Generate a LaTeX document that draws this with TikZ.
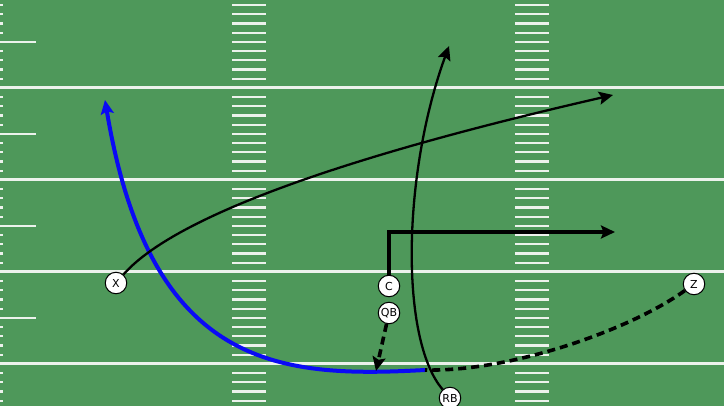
\documentclass[tikz,border=0pt]{standalone}
\usepackage{fontspec}
\setmainfont{DejaVu Sans}
\usetikzlibrary{arrows.meta}
\definecolor{grass}{RGB}{78,152,90}
\definecolor{chalk}{RGB}{236,242,236}
\definecolor{routeblue}{RGB}{10,10,245}
\tikzset{
  player/.style={circle, draw=black, line width=1pt, fill=white, minimum size=21.5pt, inner sep=0pt, font=\fontsize{11}{11}\selectfont},
  yardline/.style={draw=chalk, line width=3pt},
  hashmark/.style={draw=chalk, line width=2.2pt},
  tip/.style={-{Stealth[length=14pt,width=13pt,inset=2.5pt]}},
  thinroute/.style={draw=black, line width=2.3pt, tip},
  thickroute/.style={draw=black, line width=3.4pt, tip},
  dashroute/.style={draw=black, line width=3.6pt, dash pattern=on 8pt off 5pt},
  blueroute/.style={draw=routeblue, line width=4pt, tip}
}
\begin{document}
\begin{tikzpicture}[x=1pt,y=-1pt]
\fill[grass] (0,0) rectangle (724,406);
\useasboundingbox (0,0) rectangle (724,406);
% yard lines
\foreach \y in {88,180,272,364} {\draw[yardline] (0,\y) -- (724,\y);}
% hash marks and side ticks
\foreach \k in {1,...,44} {
  \pgfmathsetmacro\yy{-4+9.2*\k}
  \pgfmathtruncatemacro\mten{mod(\k,10)}
  \pgfmathtruncatemacro\mfive{mod(\k,5)}
  \ifnum\mten>0
    \draw[hashmark] (232,\yy) -- (266,\yy);
    \draw[hashmark] (515,\yy) -- (549,\yy);
    \ifnum\mfive=0
      \draw[hashmark] (0,\yy) -- (36,\yy);
    \else
      \draw[hashmark] (0,\yy) -- (2.5,\yy);
    \fi
  \fi
}
% players
\node[player] (X) at (116,283) {X};
\node[player] (C) at (389,286) {C};
\node[player] (QB) at (389,313) {QB};
\node[player] (RB) at (450,398) {RB};
\node[player] (Z) at (694,284) {Z};
% route ends
\coordinate (xt) at (613,95);
\coordinate (ct) at (615,232);
\coordinate (qt) at (376,371);
\coordinate (rbt) at (449,46);
\coordinate (bt) at (105,100);
\coordinate (jn) at (425,370);
% routes
\draw[blueroute] (jn) .. controls (280,378) and (150,370) .. (bt);
\draw[dashroute] (Z) .. controls (630,330) and (510,372) .. (jn);
\draw[thinroute] (X) .. controls (173,218) and (337,158) .. (xt);
\draw[thinroute] (RB) .. controls (400,340) and (402,175) .. (rbt);
\draw[thickroute] (C) |- (ct);
\draw[dashroute, tip] (QB) -- (qt);
\end{tikzpicture}
\end{document}
